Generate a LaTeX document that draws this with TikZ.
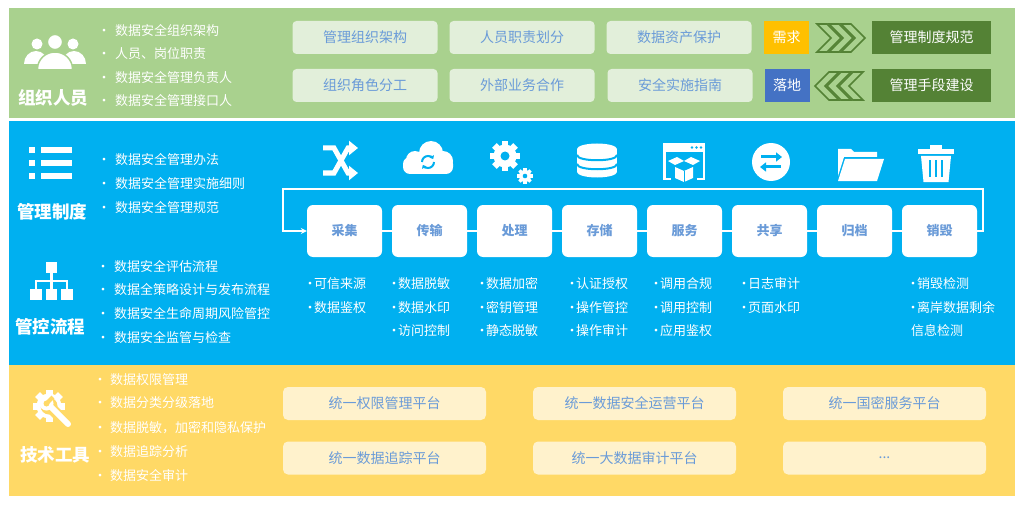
\documentclass[tikz,border=0pt]{standalone}
\usepackage{fontspec}
\setmainfont{Noto Sans CJK SC}
\usetikzlibrary{arrows.meta}
\definecolor{bandgreen}{HTML}{A9D18E}
\definecolor{boxgreen}{HTML}{E2EFDA}
\definecolor{darkgreen}{HTML}{548235}
\definecolor{needyellow}{HTML}{FFC000}
\definecolor{landblue}{HTML}{4472C4}
\definecolor{bandblue}{HTML}{00B0F0}
\definecolor{bandyellow}{HTML}{FFD966}
\definecolor{boxyellow}{HTML}{FFF2CC}
\definecolor{textblue}{HTML}{6A9BD8}
\newcommand{\fsz}[1]{\fontsize{#1}{#1}\selectfont}
\newcommand{\bul}{\makebox[8pt]{•}}
% gear: centre x, centre y, radius, hole radius, hole colour
\newcommand{\gearshape}[5]{%
	\fill[white] (#1,#2) circle (#3);
	\foreach \a in {0,45,...,315}
		\fill[white, rotate around={\a:(#1,#2)}] ({#1-0.28*#3},{#2-1.3*#3}) rectangle ({#1+0.28*#3},{#2});
	\fill[#5] (#1,#2) circle (#4);
}
\tikzset{
	gbox/.style={fill=boxgreen, rounded corners=4pt, minimum width=145pt, minimum height=33pt, text=textblue, font=\fsz{14}, inner sep=0pt},
	tag/.style={minimum width=45pt, minimum height=33pt, text=white, font=\fsz{14}, inner sep=0pt},
	dbox/.style={fill=darkgreen, minimum width=119pt, minimum height=33pt, text=white, font=\fsz{14}, inner sep=0pt},
	fbox/.style={fill=white, rounded corners=6pt, minimum width=75pt, minimum height=52pt, text=textblue, font=\fsz{13}\bfseries, inner sep=0pt},
	ybox/.style={fill=boxyellow, rounded corners=5pt, minimum width=203pt, minimum height=33pt, text=textblue, font=\fsz{14}, inner sep=0pt},
	btxt/.style={anchor=west, text=white, font=\fsz{13}, inner sep=0pt},
	ttl/.style={text=white, font=\fsz{17.5}\bfseries, inner sep=0pt},
	chev/.style={draw=darkgreen, line width=1.6pt, line join=miter},
	link/.style={draw=white, line width=1.5pt},
	sym/.style={draw=white, line width=5pt},
}

\begin{document}
\begin{tikzpicture}[x=1pt, y=-1pt]
		%%%%% START %%%%%
		\useasboundingbox (0,0) rectangle (1024,505);
		\fill[bandgreen] (9,8) rectangle (1015,118);
		\fill[bandblue] (9,121) rectangle (1015,365);
		\fill[bandyellow] (9,365) rectangle (1015,496);
		
		%% 组织人员
		\begin{scope}
			\clip (20,30) rectangle (90,64);
			\fill[white] (36,64) ellipse (12 and 13);
			\fill[white] (74,64) ellipse (12 and 13);
		\end{scope}
		\fill[white] (37,44) circle (5.5);
		\fill[white] (73,44) circle (5.5);
		\begin{scope}
			\clip (20,30) rectangle (90,68.5);
			\filldraw[fill=white, draw=bandgreen, line width=1.5pt] (55,69) ellipse (17.5 and 17);
		\end{scope}
		\filldraw[fill=white, draw=bandgreen, line width=1.2pt] (55,42) circle (7.5);
		\node[ttl] (tusers) at (53,98) {组织人员};
		\node[btxt] (u1) at (100,31) {\bul\hspace{7pt}数据安全组织架构};
		\node[btxt] (u2) at (100,54) {\bul\hspace{7pt}人员、岗位职责};
		\node[btxt] (u3) at (100,78) {\bul\hspace{7pt}数据安全管理负责人};
		\node[btxt] (u4) at (100,101) {\bul\hspace{7pt}数据安全管理接口人};
		
		\node[gbox] (g1) at (365,37.5) {管理组织架构};
		\node[gbox] (g2) at (522,37.5) {人员职责划分};
		\node[gbox] (g3) at (679,37.5) {数据资产保护};
		\node[gbox] (g4) at (365,85.5) {组织角色分工};
		\node[gbox] (g5) at (522,85.5) {外部业务合作};
		\node[gbox] (g6) at (680,85.5) {安全实施指南};
		
		\node[tag, fill=needyellow] (need) at (786.5,37.5) {需求};
		\node[tag, fill=landblue] (land) at (787,85.5) {落地};
		\foreach \k in {0,1,2}
			\draw[chev] ({817+12*\k},24) -- ({827+12*\k},24) -- ({841+12*\k},38) -- ({827+12*\k},52) -- ({817+12*\k},52) -- ({831+12*\k},38) -- cycle;
		\foreach \k in {0,1,2}
			\draw[chev] ({829+12*\k},72) -- ({839+12*\k},72) -- ({825+12*\k},86) -- ({839+12*\k},100) -- ({829+12*\k},100) -- ({815+12*\k},86) -- cycle;
		\node[dbox] (rule) at (931.5,37.5) {管理制度规范};
		\node[dbox] (mean) at (931.5,85.5) {管理手段建设};
		
		%% 管理制度 / 管控流程
		\foreach \y in {147,160,173} {
			\fill[white] (29,\y) rectangle (35,{\y+6});
			\fill[white] (41,\y) rectangle (72,{\y+6});
		}
		\node[ttl] (trule) at (52,212) {管理制度};
		\node[btxt] (r1) at (100,160) {\bul\hspace{7pt}数据安全管理办法};
		\node[btxt] (r2) at (100,184) {\bul\hspace{7pt}数据安全管理实施细则};
		\node[btxt] (r3) at (100,208) {\bul\hspace{7pt}数据安全管理规范};
		
		\fill[white] (46,262) rectangle (57,273);
		\draw[white, line width=2.5pt] (51.5,273) -- (51.5,281) (36,281) -- (67,281) (36,280) -- (36,290) (67,280) -- (67,290) (51.5,281) -- (51.5,290);
		\fill[white] (30,289) rectangle (42,300);
		\fill[white] (46,289) rectangle (57,300);
		\fill[white] (61,289) rectangle (73,300);
		\node[ttl] (tflow) at (50,327) {管控流程};
		\node[btxt] (p1) at (99,267) {\bul\hspace{7pt}数据安全评估流程};
		\node[btxt] (p2) at (99,290) {\bul\hspace{7pt}数据全策略设计与发布流程};
		\node[btxt] (p3) at (99,314) {\bul\hspace{7pt}数据安全生命周期风险管控};
		\node[btxt] (p4) at (99,338) {\bul\hspace{7pt}数据安全监管与检查};
		
		%% icons of the life cycle
		% shuffle
		\draw[sym, -{Triangle[length=9pt, width=14pt]}] (323,148) -- (334,148) -- (348,173) -- (358,173);
		\draw[sym, -{Triangle[length=9pt, width=14pt]}] (323,173) -- (334,173) -- (348,148) -- (358,148);
		% cloud
		\fill[white] (431,153) circle (12);
		\fill[white] (415,160) circle (9);
		\fill[white] (443,161) circle (10);
		\fill[white, rounded corners=7pt] (403,157) rectangle (453,174);
		\draw[bandblue, line width=2pt, -{Triangle[length=3pt, width=5pt]}] (434,162) arc (0:150:6);
		\draw[bandblue, line width=2pt, -{Triangle[length=3pt, width=5pt]}] (422,162) arc (180:330:6);
		% gears
		\gearshape{505}{156}{11.5}{4.5}{bandblue}
		\gearshape{525}{176}{6}{2.3}{bandblue}
		% database
		\fill[white] (577,149) rectangle (617,172);
		\fill[white] (597,172) ellipse (20 and 5.5);
		\fill[white] (597,149) ellipse (20 and 5.5);
		\draw[bandblue, line width=2pt] (577,155) .. controls (577,162) and (617,162) .. (617,155);
		\draw[bandblue, line width=2pt] (577,164) .. controls (577,171) and (617,171) .. (617,164);
		% window with box
		\fill[white] (663,143) rectangle (705,152);
		\foreach \k in {0,1,2}
			\fill[bandblue] ({692+4.5*\k},147.5) circle (1.3);
		\draw[white, line width=2.5pt] (664.25,152) -- (664.25,178.75) -- (671,178.75) (697,178.75) -- (703.75,178.75) -- (703.75,152);
		\fill[white] (675,167) -- (684,171) -- (693,167) -- (693,178) -- (684,182) -- (675,178) -- cycle;
		\fill[white] (675,165) -- (668,161) -- (677,157) -- (684,161) -- cycle;
		\fill[white] (693,165) -- (700,161) -- (691,157) -- (684,161) -- cycle;
		\draw[bandblue, line width=1pt] (684,171) -- (684,182);
		% exchange
		\fill[white] (771,162) circle (19);
		\draw[bandblue, line width=3pt, -{Triangle[length=6pt, width=9pt]}] (761,157) -- (782,157);
		\draw[bandblue, line width=3pt, -{Triangle[length=6pt, width=9pt]}] (781,167) -- (760,167);
		% folder
		\fill[white] (838,149) -- (851,149) -- (854,152) -- (877,152) -- (877,157) -- (844,157) -- (838,176) -- cycle;
		\fill[white] (845,159) -- (884,159) -- (877,181) -- (838,181) -- cycle;
		% trash
		\fill[white] (930,145) rectangle (942,150);
		\fill[white] (918,149) rectangle (954,154);
		\fill[white] (921,156) -- (951,156) -- (948.5,182) -- (923.5,182) -- cycle;
		\foreach \x in {930,936,942}
			\fill[bandblue] ({\x-1.3},160) rectangle ({\x+1.3},177);
		
		%% life cycle
		\foreach \n [count=\i] in {采集,传输,处理,存储,服务,共享,归档,销毁}
			\node[fbox] (f\i) at ({344.5+85*(\i-1)},231) {\n};
		\foreach \i in {1,...,7} {
			\pgfmathtruncatemacro{\j}{\i+1}
			\draw[link] (f\i) -- (f\j);
		}
		\coordinate (lpR) at (983,189);
		\coordinate (lpL) at (283,189);
		\draw[link, -{Stealth[length=6pt, width=6pt]}] (f8.east) -| (lpR) -- (lpL) |- (f1.west);
		
		\foreach \x/\items [count=\c] in {306/{可信来源,数据鉴权}, 390/{数据脱敏,数据水印,访问控制},
				478/{数据加密,密钥管理,静态脱敏}, 568/{认证授权,操作管控,操作审计},
				652/{调用合规,调用控制,应用鉴权}, 740/{日志审计,页面水印}, 909/{销毁检测,离岸数据剩余}}
			\foreach \t [count=\i] in \items
				\node[btxt] (s\c-\i) at (\x,{284+23.5*(\i-1)}) {\bul\t};
		\node[btxt] (s7-3) at (911,331) {信息检测};
		
		%% 技术工具
		\gearshape{49}{406}{12.5}{8.5}{bandyellow}
		\draw[bandyellow, line width=11pt] (50,407) -- (72,429);
		\draw[white, line width=6pt, line cap=round] (49,405) -- (68,424);
		\fill[white] (46.5,403.5) circle (7);
		\fill[bandyellow] (46.5,403.5) circle (3);
		\draw[bandyellow, line width=4pt] (46.5,403.5) -- (53,397);
		\node[ttl] (ttool) at (55,455) {技术工具};
		\node[btxt] (k1) at (96,380) {\bul\hspace{6pt}数据权限管理};
		\node[btxt] (k2) at (96,403) {\bul\hspace{6pt}数据分类分级落地};
		\node[btxt] (k3) at (96,428) {\bul\hspace{6pt}数据脱敏，加密和隐私保护};
		\node[btxt] (k4) at (96,452) {\bul\hspace{6pt}数据追踪分析};
		\node[btxt] (k5) at (96,476) {\bul\hspace{6pt}数据安全审计};
		
		\node[ybox] (y1) at (384.5,403.5) {统一权限管理平台};
		\node[ybox] (y2) at (634.5,403.5) {统一数据安全运营平台};
		\node[ybox] (y3) at (884.5,403.5) {统一国密服务平台};
		\node[ybox] (y4) at (384.5,458) {统一数据追踪平台};
		\node[ybox] (y5) at (634.5,458) {统一大数据审计平台};
		\node[ybox] (y6) at (884.5,458) {...};
		%%%%% END %%%%%
	\end{tikzpicture}
\end{document}
